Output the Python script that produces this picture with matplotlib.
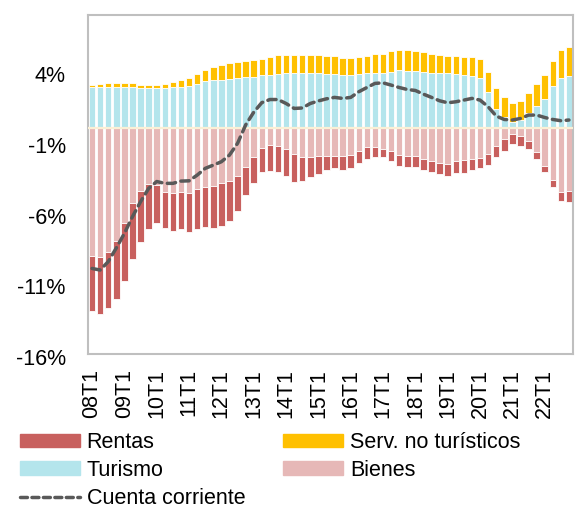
import matplotlib
matplotlib.use("Agg")
import matplotlib.pyplot as plt
import matplotlib.ticker as ticker
import matplotlib.lines as mlines
import matplotlib.patches as mpatches
import matplotlib.transforms as mtrans
import numpy as np

# ── Data (% of GDP, quarterly 08T1 .. 22T4) ───────────────────────────────────
YEARS = list(range(8, 23))
QUARTERS = [f"{y:02d}T{q}" for y in YEARS for q in range(1, 5)]
TICK_LABELS = [f"{y:02d}T1" for y in YEARS]

TURISMO = [
    2.88, 2.90, 2.90, 2.88, 2.88, 2.88, 2.85, 2.85, 2.85, 2.85,
    2.88, 2.90, 2.95, 3.09, 3.30, 3.35, 3.40, 3.44, 3.49, 3.56,
    3.61, 3.70, 3.77, 3.82, 3.85, 3.89, 3.87, 3.87, 3.85, 3.80,
    3.78, 3.75, 3.75, 3.80, 3.85, 3.87, 3.87, 3.96, 4.08, 4.00,
    4.00, 3.97, 3.89, 3.87, 3.85, 3.82, 3.77, 3.68, 3.54, 2.55,
    1.32, 0.73, 0.42, 0.54, 1.02, 1.53, 2.03, 2.97, 3.49, 3.66,
]
SERV_NO_TUR = [
    0.12, 0.18, 0.25, 0.27, 0.27, 0.27, 0.15, 0.15, 0.15, 0.25,
    0.37, 0.51, 0.60, 0.73, 0.78, 0.94, 1.03, 1.11, 1.18, 1.18,
    1.18, 1.16, 1.21, 1.32, 1.31, 1.25, 1.27, 1.27, 1.27, 1.27,
    1.27, 1.18, 1.20, 1.22, 1.24, 1.38, 1.35, 1.44, 1.42, 1.48,
    1.42, 1.38, 1.32, 1.25, 1.25, 1.23, 1.26, 1.34, 1.36, 1.41,
    1.51, 1.42, 1.30, 1.35, 1.41, 1.56, 1.67, 1.75, 2.01, 2.09,
]
BIENES = [
    -9.05, -9.12, -8.79, -7.99, -6.72, -5.35, -4.48, -3.98, -4.05, -4.52,
    -4.60, -4.57, -4.60, -4.31, -4.19, -4.10, -3.93, -3.77, -3.39, -2.78,
    -2.10, -1.46, -1.25, -1.28, -1.53, -1.88, -2.05, -2.10, -2.00, -1.98,
    -1.98, -1.98, -1.91, -1.63, -1.34, -1.34, -1.48, -1.65, -1.93, -1.98,
    -1.98, -2.19, -2.36, -2.52, -2.57, -2.33, -2.30, -2.24, -2.12, -1.86,
    -1.29, -0.82, -0.47, -0.59, -0.92, -1.70, -2.71, -3.70, -4.52, -4.45,
]
RENTAS = [
    -3.89, -4.06, -3.98, -4.15, -4.14, -3.96, -3.60, -3.21, -2.71, -2.55,
    -2.68, -2.57, -2.75, -2.88, -2.86, -3.02, -3.00, -2.83, -2.50, -1.98,
    -1.79, -1.70, -1.81, -1.88, -1.89, -1.96, -1.70, -1.36, -1.25, -0.99,
    -0.89, -1.01, -0.92, -0.85, -0.87, -0.76, -0.62, -0.73, -0.78, -0.80,
    -0.82, -0.80, -0.77, -0.78, -0.85, -0.87, -0.90, -0.75, -0.75, -0.78,
    -0.80, -0.83, -0.70, -0.68, -0.61, -0.51, -0.45, -0.52, -0.64, -0.83,
]
CUENTA_CORRIENTE = [
    -9.95, -10.06, -9.47, -8.50, -7.47, -6.29, -5.23, -4.29, -3.80, -3.93,
    -3.93, -3.77, -3.75, -3.35, -2.87, -2.64, -2.40, -1.93, -1.10, 0.20,
    1.10, 1.78, 2.00, 2.00, 1.72, 1.37, 1.40, 1.72, 1.90, 2.05,
    2.15, 2.08, 2.15, 2.55, 2.85, 3.14, 3.18, 3.02, 2.85, 2.71,
    2.64, 2.38, 2.15, 1.91, 1.77, 1.84, 1.96, 2.08, 1.96, 1.49,
    0.83, 0.59, 0.55, 0.66, 0.90, 0.90, 0.73, 0.59, 0.50, 0.55,
]

# ── Style ─────────────────────────────────────────────────────────────────────
C_RENTAS  = "#C8605E"
C_TURISMO = "#B4E5EC"
C_SERV    = "#FFC000"
C_BIENES  = "#E6B8B7"
C_LINE    = "#595959"
C_FRAME   = "#BFBFBF"
FONT      = "Liberation Sans"
FS        = 15.5

plt.rcParams["font.family"] = [FONT, "DejaVu Sans"]

fig = plt.figure(figsize=(5.82, 5.12), dpi=100)
ax = fig.add_axes([88 / 582, 1 - 354 / 512, 485 / 582, (354 - 14.7) / 512])

x = np.arange(len(QUARTERS))
tur = np.array(TURISMO)
bie = np.array(BIENES)
bar_kw = dict(width=0.8, edgecolor="white", linewidth=0.6, zorder=2)

ax.bar(x, TURISMO, color=C_TURISMO, **bar_kw)
ax.bar(x, SERV_NO_TUR, bottom=tur, color=C_SERV, **bar_kw)
ax.bar(x, BIENES, color=C_BIENES, **bar_kw)
ax.bar(x, RENTAS, bottom=bie, color=C_RENTAS, **bar_kw)
ax.axhline(0, color="#FBF0D6", linewidth=1.6, zorder=3)
ax.plot(x, CUENTA_CORRIENTE, color=C_LINE, linewidth=2.5,
        linestyle=(0, (2.4, 1.6)), dash_capstyle="round", zorder=4)

ax.set_xlim(-0.5, len(QUARTERS) - 0.5)
ax.set_ylim(-16, 8)
ax.set_yticks([-16, -11, -6, -1, 4])
ax.yaxis.set_major_formatter(ticker.FuncFormatter(lambda v, _: f"{v:.0f}%"))
ax.set_xticks(x[::4])
ax.set_xticklabels(TICK_LABELS, rotation=90)
ax.tick_params(axis="both", length=0, labelsize=FS)
ax.tick_params(axis="y", pad=16)
ax.tick_params(axis="x", pad=11)
# Excel draws the value labels a touch below their gridline position
shift = mtrans.ScaledTranslation(0, -3 / 100, fig.dpi_scale_trans)
for lbl in ax.get_yticklabels():
    lbl.set_transform(lbl.get_transform() + shift)
for s in ax.spines.values():
    s.set_color(C_FRAME)
    s.set_linewidth(1.5)

# ── Legend ────────────────────────────────────────────────────────────────────
handles = [
    mpatches.Patch(color=C_RENTAS, label="Rentas"),
    mpatches.Patch(color=C_TURISMO, label="Turismo"),
    mlines.Line2D([], [], color=C_LINE, linewidth=2.5, linestyle=(0, (2.0, 1.3)),
                  dash_capstyle="round", label="Cuenta corriente"),
    mpatches.Patch(color=C_SERV, label="Serv. no turísticos"),
    mpatches.Patch(color=C_BIENES, label="Bienes"),
]
fig.legend(handles=handles, loc="upper left", bbox_to_anchor=(20 / 582, 1 - 432 / 512),
           ncol=2, frameon=False, fontsize=FS, handlelength=2.8, handleheight=0.6,
           handletextpad=0.3, columnspacing=1.75, labelspacing=0.32,
           borderpad=0, borderaxespad=0)

fig.savefig("out.png", dpi=100)
